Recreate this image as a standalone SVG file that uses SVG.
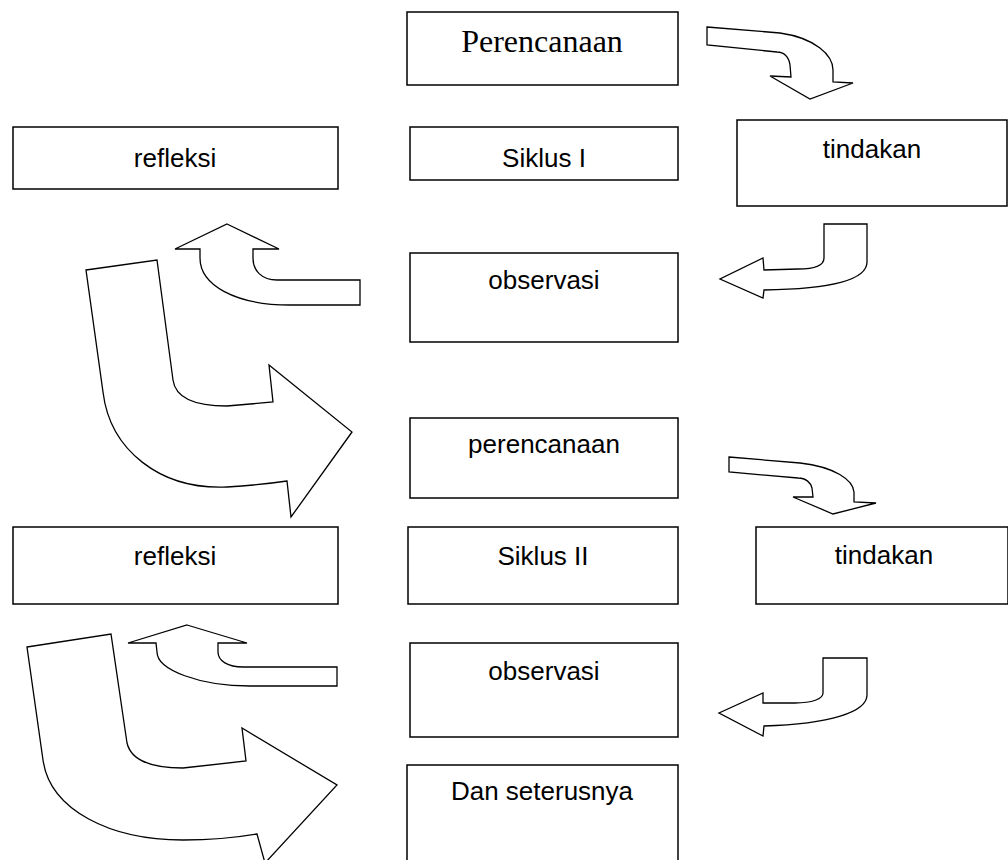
<svg xmlns="http://www.w3.org/2000/svg" width="1008" height="860" viewBox="0 0 1008 860">
<style>
.box{fill:#fff;stroke:#000;stroke-width:1.5}
.arr{fill:#fff;stroke:#000;stroke-width:1.3;stroke-linejoin:miter}
.t{font-family:"Liberation Sans",Arial,sans-serif;font-size:26px;fill:#000;text-anchor:middle}
.ts{font-family:"Liberation Serif","Times New Roman",serif;font-size:32px;fill:#000;text-anchor:middle}
</style>
<rect width="1008" height="860" fill="#fff"/>
<g id="connectors">
<path class="arr" d="M707,27 L780,33 C815,38 833,55 833,70 L833,82 L853,83 L810,99 L770,76 L791,77 L790,65 C789,57 784,52 777,52 L707,45 Z"/>
<path class="arr" d="M867,224 L824,224 L824,258 C824,265 815,269 798,269 L764,270 L763,258 L720,279 L763,298 L764,290 C830,289 867,280 867,262 Z"/>
<path class="arr" d="M227,224 L279,249 L253,249 L253,258 C253,271 262,280 277,280 L360,280 L360,305 L290,305 C235,305 200,285 200,258 L200,249 L175,249 Z"/>
<path class="arr" d="M86,270 L157,260 L173,380 C175,395 190,406 227,406 L273,402 L269,365 L352,432 L291,517 L287,481 Q260,485 227,487 C160,490 110,450 103,392 Z"/>
<path class="arr" d="M729,457 L800,463 C835,467 853,480 854,492 L854,502 L876,503 L833,514 L793,497 L813,497 L812,488 C811,483 806,478 798,478 L729,472 Z"/>
<path class="arr" d="M867,658 L823,658 L823,693 C823,699 812,703 795,703 L763,703 L763,693 L719,713 L763,736 L764,726 C830,724 867,712 867,695 Z"/>
<path class="arr" d="M187,625 L247,643 L218,643 L218,652 C218,661 228,667 243,667 L337,667 L337,686 L250,686 C200,686 157,670 157,652 L156,643 L128,643 Z"/>
<path class="arr" d="M27,647 L111,634 L127,743 C131,760 150,768 183,768 L246,761 L242,728 L337,785 L265,863 L257,834 C240,837 210,840 183,840 C110,840 50,810 43,760 Z"/>
</g>
<g id="perencanaan1"><rect class="box" x="407" y="12" width="271" height="73"/><text class="ts" x="542" y="52">Perencanaan</text></g>
<g id="refleksi1"><rect class="box" x="13" y="127" width="325" height="62"/><text class="t" x="175" y="167">refleksi</text></g>
<g id="siklus1"><rect class="box" x="410" y="127" width="268" height="53"/><text class="t" x="544" y="167">Siklus I</text></g>
<g id="tindakan1"><rect class="box" x="737" y="120" width="270" height="86"/><text class="t" x="872" y="158">tindakan</text></g>
<g id="observasi1"><rect class="box" x="410" y="253" width="268" height="89"/><text class="t" x="544" y="289">observasi</text></g>
<g id="perencanaan2"><rect class="box" x="410" y="418" width="268" height="80"/><text class="t" x="544" y="453">perencanaan</text></g>
<g id="refleksi2"><rect class="box" x="13" y="527" width="325" height="77"/><text class="t" x="175" y="565">refleksi</text></g>
<g id="siklus2"><rect class="box" x="408" y="527" width="270" height="77"/><text class="t" x="543" y="565">Siklus II</text></g>
<g id="tindakan2"><rect class="box" x="756" y="527" width="252" height="77"/><text class="t" x="884" y="564">tindakan</text></g>
<g id="observasi2"><rect class="box" x="410" y="643" width="268" height="94"/><text class="t" x="544" y="680">observasi</text></g>
<g id="danseterusnya"><rect class="box" x="407" y="765" width="271" height="100"/><text class="t" x="542" y="800">Dan seterusnya</text></g>
</svg>
